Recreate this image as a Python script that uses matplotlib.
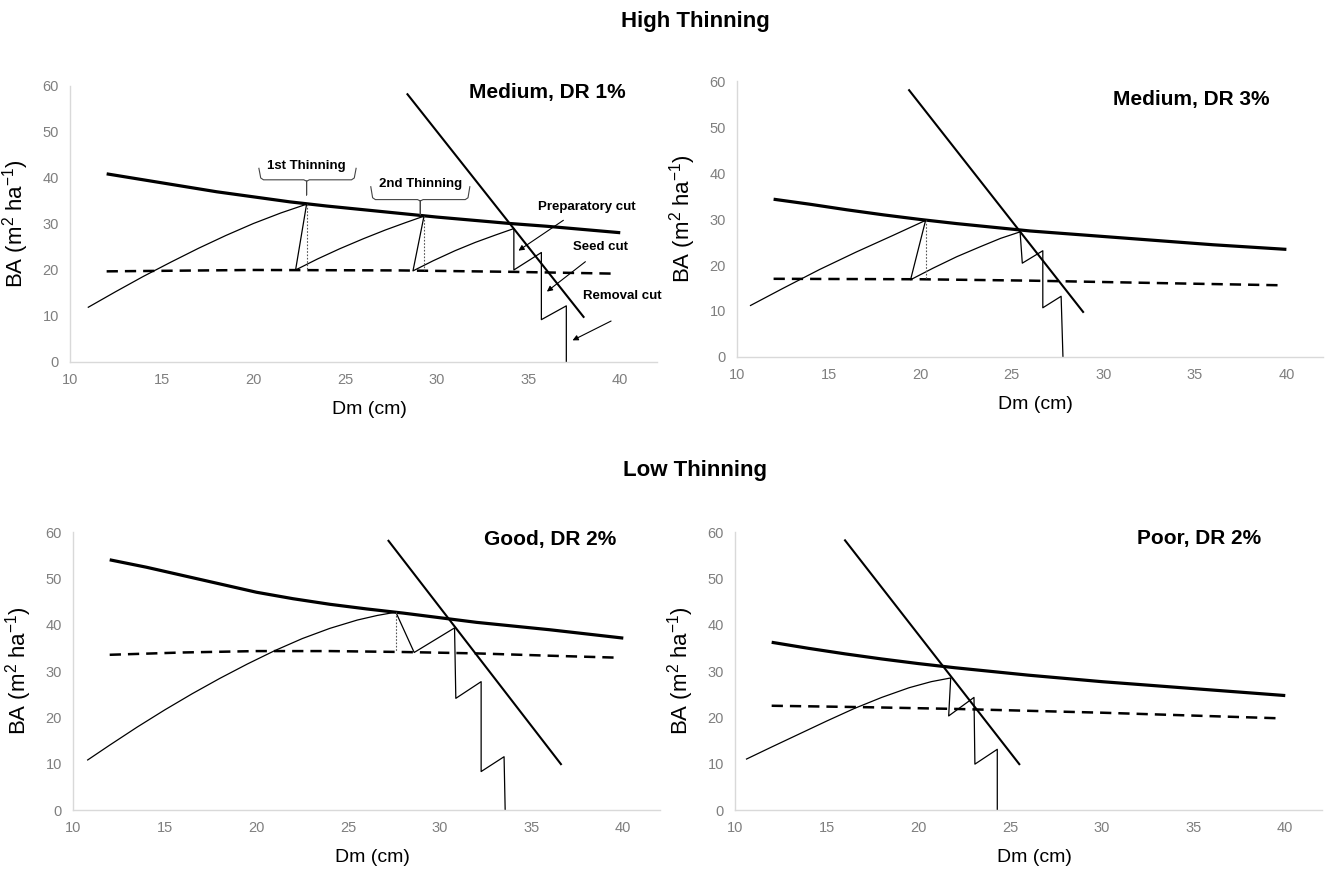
import numpy as np
import matplotlib
matplotlib.use('Agg')
import matplotlib.pyplot as plt

plt.rcParams['font.family'] = ['Liberation Sans', 'DejaVu Sans']
plt.rcParams['mathtext.fontset'] = 'custom'
plt.rcParams['mathtext.rm'] = 'Liberation Sans'

# ---- Medium, DR 1% (high thinning) ----
tl_max_x = [12, 14, 16, 18, 20, 22, 24, 26, 28, 30, 32, 34, 36, 38, 40]
tl_max_y = [40.9, 39.6, 38.3, 37.0, 35.9, 34.8, 33.9, 33.1, 32.3, 31.5, 30.8, 30.1, 29.5, 28.8, 28.1]
tl_low_x = [12, 20, 28, 34, 39.7]
tl_low_y = [19.7, 20.0, 19.9, 19.6, 19.2]
tl_steep_x = [28.4, 38.0]
tl_steep_y = [58.2, 9.8]
tl_traj_x = [11.0, 12.5, 14.0, 15.5, 17.0, 18.5, 20.0, 21.5, 22.9,
             22.3, 23.5, 24.7, 26.0, 27.2, 28.3, 29.3,
             28.7, 29.8, 31.0, 32.1, 33.2, 34.2,
             34.2, 35.7, 35.7, 37.06, 37.06]
tl_traj_y = [11.9, 15.3, 18.6, 21.7, 24.7, 27.5, 30.1, 32.4, 34.3,
             20.0, 22.4, 24.6, 26.8, 28.7, 30.3, 31.7,
             19.8, 22.0, 24.2, 26.0, 27.6, 29.0,
             20.0, 23.8, 9.2, 12.2, 0.0]
tl_dot_x = [22.9, 29.3]
tl_dot_top = [34.3, 31.7]
tl_dot_bot = [20.0, 19.9]

# ---- Medium, DR 3% (high thinning) ----
tr_max_x = [12, 14, 16, 18, 20, 22, 24, 26, 28, 30, 32, 34, 36, 38, 40]
tr_max_y = [34.3, 33.2, 32.0, 30.9, 29.9, 29.0, 28.2, 27.4, 26.8, 26.2, 25.6, 25.0, 24.4, 23.9, 23.4]
tr_low_x = [12, 20, 26, 34, 39.6]
tr_low_y = [17.0, 16.9, 16.6, 16.0, 15.6]
tr_steep_x = [19.4, 28.9]
tr_steep_y = [58.0, 9.8]
tr_traj_x = [10.74, 12.5, 14.5, 16.5, 18.5, 20.3,
             19.48, 20.7, 22.0, 23.3, 24.4, 25.46,
             25.58, 26.7, 26.7, 27.7, 27.8]
tr_traj_y = [11.2, 14.9, 19.0, 22.8, 26.4, 29.7,
             16.8, 19.3, 21.8, 24.0, 25.8, 27.2,
             20.4, 23.1, 10.7, 13.2, 0.0]
tr_dot_x = [20.3]
tr_dot_top = [29.7]
tr_dot_bot = [16.9]

# ---- Good, DR 2% (low thinning) ----
bl_max_x = [12, 14, 16, 18, 20, 22, 24, 26, 28, 30, 32, 34, 36, 38, 40]
bl_max_y = [54.0, 52.4, 50.6, 48.8, 47.0, 45.6, 44.4, 43.4, 42.5, 41.5, 40.5, 39.7, 38.9, 38.0, 37.1]
bl_low_x = [12, 16, 20, 24, 28, 32, 36, 39.5]
bl_low_y = [33.5, 34.0, 34.3, 34.3, 34.1, 33.8, 33.3, 32.9]
bl_steep_x = [27.2, 36.6]
bl_steep_y = [58.1, 9.9]
bl_traj_x = [10.8, 12.0, 13.5, 15.0, 16.5, 18.0, 19.5, 21.0, 22.5, 24.0, 25.5, 26.6, 27.6,
             28.6, 30.8, 30.87, 32.25, 32.25, 33.5, 33.56]
bl_traj_y = [10.8, 14.0, 17.9, 21.6, 25.1, 28.4, 31.5, 34.4, 37.0, 39.2, 41.0, 42.0, 42.7,
             34.0, 39.3, 24.1, 27.7, 8.3, 11.5, 0.0]
bl_dot_x = [27.6]
bl_dot_top = [42.7]
bl_dot_bot = [34.0]

# ---- Poor, DR 2% (low thinning) ----
br_max_x = [12, 14, 16, 18, 20, 22, 24, 26, 28, 30, 32, 34, 36, 38, 40]
br_max_y = [36.2, 34.9, 33.7, 32.6, 31.6, 30.7, 29.9, 29.1, 28.4, 27.7, 27.1, 26.5, 25.9, 25.3, 24.7]
br_low_x = [12, 17, 22.2, 30, 39.6]
br_low_y = [22.5, 22.2, 21.8, 21.0, 19.8]
br_steep_x = [16.0, 25.5]
br_steep_y = [58.2, 9.9]
br_traj_x = [10.63, 12.0, 13.5, 15.0, 16.5, 18.0, 19.5, 20.7, 21.76,
             21.65, 23.03, 23.08, 24.3, 24.3]
br_traj_y = [11.0, 13.6, 16.4, 19.2, 21.9, 24.3, 26.4, 27.7, 28.5,
             20.3, 24.3, 9.9, 13.1, 0.0]

panel_names = ['Medium, DR 1%', 'Medium, DR 3%', 'Good, DR 2%', 'Poor, DR 2%']
xticks = [10, 15, 20, 25, 30, 35, 40]
yticks = [0, 10, 20, 30, 40, 50, 60]

fig = plt.figure(figsize=(13.25, 8.72), dpi=100)

rects = [[0.0528, 0.5849, 0.4430, 0.3165],
         [0.5562, 0.5906, 0.4423, 0.3165],
         [0.0551, 0.0711, 0.4430, 0.3188],
         [0.5547, 0.0711, 0.4430, 0.3188]]
name_pos = [(36.0, 58.5), (34.8, 55.9), (36.0, 58.3), (35.3, 58.5)]

panels = [
    (tl_max_x, tl_max_y, tl_low_x, tl_low_y, tl_steep_x, tl_steep_y, tl_traj_x, tl_traj_y, tl_dot_x, tl_dot_top, tl_dot_bot),
    (tr_max_x, tr_max_y, tr_low_x, tr_low_y, tr_steep_x, tr_steep_y, tr_traj_x, tr_traj_y, tr_dot_x, tr_dot_top, tr_dot_bot),
    (bl_max_x, bl_max_y, bl_low_x, bl_low_y, bl_steep_x, bl_steep_y, bl_traj_x, bl_traj_y, bl_dot_x, bl_dot_top, bl_dot_bot),
    (br_max_x, br_max_y, br_low_x, br_low_y, br_steep_x, br_steep_y, br_traj_x, br_traj_y, [], [], []),
]

axes = []
for i, p in enumerate(panels):
    mx, my, lx, ly, sx, sy, tx, ty, dx, dtop, dbot = p
    ax = fig.add_axes(rects[i])
    ax.plot(mx, my, color='black', lw=2.3, solid_capstyle='butt', solid_joinstyle='round')
    ax.plot(lx, ly, color='black', lw=1.8, dashes=(4.5, 2.8))
    ax.plot(sx, sy, color='black', lw=1.5)
    ax.plot(tx, ty, color='black', lw=0.9)
    for k in range(len(dx)):
        ax.plot([dx[k], dx[k]], [dtop[k], dbot[k]], color='#555555', lw=0.8, ls=(0, (1.5, 1.5)))
    ax.set_xlim(10, 42)
    ax.set_ylim(0, 60)
    ax.set_xticks(xticks)
    ax.set_yticks(yticks)
    ax.tick_params(length=0, labelsize=10.5, labelcolor='#7f7f7f', pad=8)
    for s in ['top', 'right']:
        ax.spines[s].set_visible(False)
    for s in ['left', 'bottom']:
        ax.spines[s].set_color('#d9d9d9')
        ax.spines[s].set_linewidth(1.0)
    ax.set_xlabel('Dm (cm)', fontsize=14)
    ax.set_ylabel(r'BA (m$^{\mathrm{2}}$ ha$^{\mathrm{-1}}$)', fontsize=16)
    ax.xaxis.set_label_coords(0.51, -0.14)
    ax.yaxis.set_label_coords(-0.066, 0.5)
    ax.patch.set_visible(False)
    ax.text(name_pos[i][0], name_pos[i][1], panel_names[i], fontsize=15, fontweight='bold',
            ha='center', va='center')
    axes.append(ax)

# annotations on the first panel
ax = axes[0]
brackets = [(20.3, 25.6, 22.9, 42.1, 39.6, 36.3, '1st Thinning', 42.6),
            (26.4, 31.8, 29.1, 38.1, 35.3, 32.0, '2nd Thinning', 38.7)]
for x0, x1, xm, ytop, yh, ytip, lab, ylab in brackets:
    bx = [x0, x0 + 0.1, x0 + 0.25, xm - 0.15, xm, xm, xm, xm + 0.15, x1 - 0.25, x1 - 0.1, x1]
    by = [ytop, yh + 0.4, yh, yh, yh - 0.3, ytip, yh - 0.3, yh, yh, yh + 0.4, ytop]
    ax.plot(bx, by, color='#444444', lw=0.8)
    ax.text(xm, ylab, lab, fontsize=9.5, fontweight='bold', ha='center', va='center')

arrows = [('Preparatory cut', (38.15, 33.6), (36.9, 30.8), (34.45, 24.2)),
          ('Seed cut', (38.9, 24.9), (38.1, 21.8), (36.0, 15.3)),
          ('Removal cut', (40.1, 14.3), (39.5, 8.9), (37.4, 4.7))]
for lab, tpos, a0, a1 in arrows:
    ax.text(tpos[0], tpos[1], lab, fontsize=9.5, fontweight='bold', ha='center', va='center',
            clip_on=False)
    ax.annotate('', xy=a1, xytext=a0,
                arrowprops=dict(arrowstyle='-|>', lw=0.8, color='black', mutation_scale=8,
                                shrinkA=0, shrinkB=0))

fig.text(695 / 1325, 1 - 22 / 872, 'High Thinning', fontsize=16, fontweight='bold',
         ha='center', va='center')
fig.text(695 / 1325, 1 - 470 / 872, 'Low Thinning', fontsize=16, fontweight='bold',
         ha='center', va='center')

fig.savefig('out.png', dpi=100)
